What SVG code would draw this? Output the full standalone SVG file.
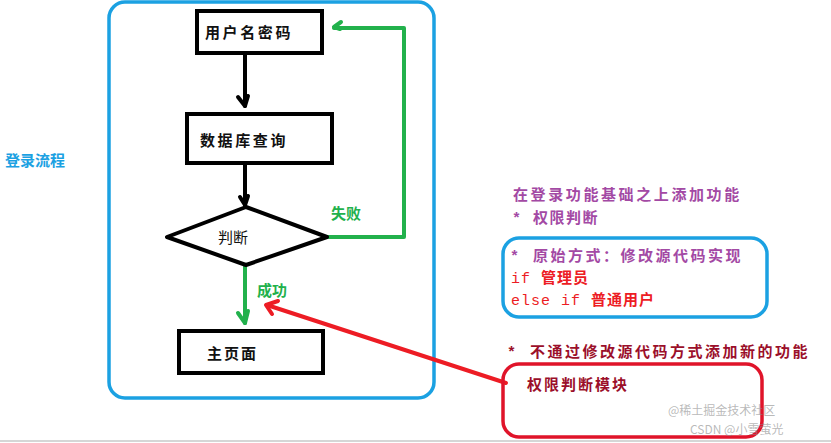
<svg xmlns="http://www.w3.org/2000/svg" width="831" height="443" viewBox="0 0 831 443">
<style>
.cn{font-family:"Noto Sans CJK SC","Noto Sans CJK JP",sans-serif;font-size:15px;}
.blk{fill:#111;font-weight:bold;}
.box{fill:#fff;stroke:#000;stroke-width:4;}
.g{stroke:#22b14c;stroke-width:4;fill:none;stroke-linecap:round;stroke-linejoin:round;}
.k{stroke:#000;stroke-width:4;fill:none;stroke-linecap:round;stroke-linejoin:round;}
.purple{fill:#a349a4;font-weight:bold;}
.red{fill:#ed1c24;font-weight:bold;}
.dred{fill:#9b0f2a;font-weight:bold;}
.mono{font-family:"Liberation Mono","Noto Sans CJK SC",monospace;}
.thin{font-weight:normal;}
</style>
<rect width="831" height="443" fill="#fff"/>
<line x1="0" y1="441" x2="831" y2="441" stroke="#c8c8c8" stroke-width="1.5"/>
<g id="frame">
<rect x="109" y="2" width="325" height="396" rx="16" fill="none" stroke="#1ba1e2" stroke-width="3.5"/>
</g>
<g id="title"><text x="5" y="166" class="cn" font-weight="bold" fill="#1ba1e2" font-size="15">登录流程</text></g>
<g id="connectors">
<path class="k" d="M245 54 V106"/>
<path class="k" d="M238 97 L245 106 L248 96"/>
<path class="k" d="M245 164 V205"/>
<path class="k" d="M240 197 L245 205 L248 196"/>
<path class="g" d="M328 237 H404 V28 H334"/>
<path class="g" d="M341 22 L334 27 L340 29"/>
<path class="g" d="M245 266 V323"/>
<path class="g" d="M238 313 L245 323 L248 311"/>
<path d="M506 383 L267 305" stroke="#ed1c24" stroke-width="4" fill="none" stroke-linecap="round"/>
<path d="M278 301 L266 305 L272 314" stroke="#ed1c24" stroke-width="4" fill="none" stroke-linecap="round" stroke-linejoin="round"/>
</g>
<g id="n_user"><rect class="box" x="197" y="11" width="125" height="42"/><text x="205" y="38" class="cn blk" font-size="16" letter-spacing="2.6">用户名密码</text></g>
<g id="n_db"><rect class="box" x="187" y="114" width="145" height="49"/><text x="200" y="146" class="cn blk" font-size="16" letter-spacing="2.6">数据库查询</text></g>
<g id="n_judge"><polygon points="167,237 246,207 327,237 246,265" fill="#fff" stroke="#000" stroke-width="4" stroke-linejoin="round"/><text x="218" y="243" class="cn" fill="#111" font-size="16">判断</text></g>
<g id="n_main"><rect class="box" x="179" y="331" width="144" height="42"/><text x="207" y="359" class="cn blk" font-size="16" letter-spacing="2">主页面</text></g>
<g id="labels">
<text x="331" y="219" class="cn" fill="#22b14c" font-weight="bold" font-size="15">失败</text>
<text x="257" y="296" class="cn" fill="#22b14c" font-weight="bold" font-size="15">成功</text>
</g>
<g id="note1">
<text x="513" y="200" class="cn purple" font-size="15" letter-spacing="2.6">在登录功能基础之上添加功能</text>
<text x="512" y="223" class="cn purple mono" font-size="15" letter-spacing="1.5">* 权限判断</text>
</g>
<g id="n_orig">
<rect x="503" y="238" width="264" height="79" rx="16" fill="none" stroke="#1ba1e2" stroke-width="3.5"/>
<text x="510" y="261" class="cn purple mono" font-size="15" letter-spacing="2.5">* 原始方式：修改源代码实现</text>
<text x="511" y="283" class="cn red mono" font-size="15" letter-spacing="1"><tspan class="thin">if</tspan> 管理员</text>
<text x="511" y="305" class="cn red mono" font-size="15" letter-spacing="1"><tspan class="thin">else if</tspan> 普通用户</text>
</g>
<g id="note2"><text x="507" y="357" class="cn dred mono" font-size="16" letter-spacing="2.5">*  不通过修改源代码方式添加新的功能</text></g>
<g id="n_module">
<rect x="503" y="364" width="259" height="73" rx="16" fill="none" stroke="#e0142a" stroke-width="3.5"/>
<text x="527" y="390" class="cn dred" font-size="16" letter-spacing="2">权限判断模块</text>
</g>
<g id="watermark" font-family="Noto Sans CJK SC,sans-serif" font-size="12" fill="#8a8a8a" fill-opacity="0.6">
<text x="668" y="415">@稀土掘金技术社区</text>
<text x="690" y="434">CSDN @小雪萤光</text>
</g>
</svg>
